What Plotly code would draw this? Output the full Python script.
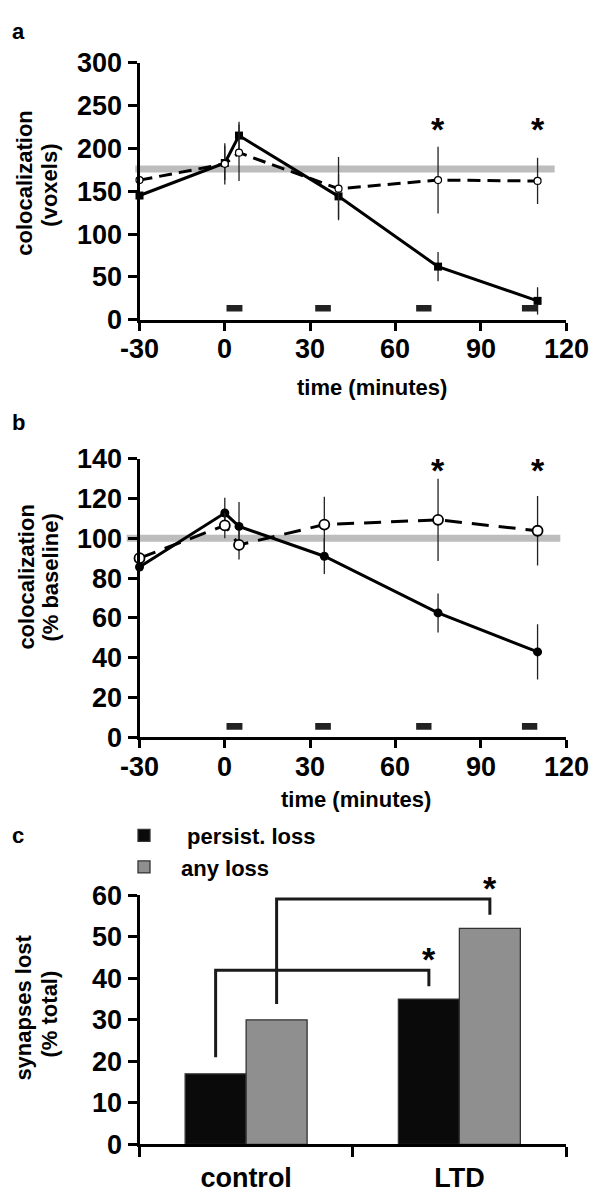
import plotly.graph_objects as go

W, H = 593, 1203
FONT = "Liberation Sans, Arial, sans-serif"

# ---------------- data ----------------
# panel a : colocalization (voxels)
a_time = [-30, 0, 5, 40, 75, 110]
a_ltd = [145, 183, 215, 144, 62, 22]
a_ltd_err = [0, 20, 16, 26, 17, 16]
a_ctl = [163, 182, 195, 153, 163, 162]
a_ctl_err = [0, 24, 33, 37, 39, 27]
a_baseline = 176
a_xticks = [-30, 0, 30, 60, 90, 120]
a_yticks = [0, 50, 100, 150, 200, 250, 300]

# panel b : colocalization (% baseline)
b_time = [-30, 0, 5, 35, 75, 110]
b_ltd = [85.6, 112.7, 106, 91, 62.5, 42.9]
b_ltd_err = [0, 7.7, 12.3, 9, 9.8, 13.9]
b_ctl = [90, 106.5, 96.7, 106.9, 109.3, 103.8]
b_ctl_err = [0, 6.5, 7.3, 14, 20.7, 17.5]
b_baseline = 100
b_yticks = [0, 20, 40, 60, 80, 100, 120, 140]

sig_times = [75, 110]
stim_start = [0.6, 31.8, 67.3, 104.5]
stim_end = [6.2, 37.3, 72.7, 109.9]

# panel c : synapses lost (% total)
c_groups = ["control", "LTD"]
c_persist = [17, 35]
c_any = [30, 52]
c_yticks = [0, 10, 20, 30, 40, 50, 60]

# ---------------- layout helpers ----------------
def px_x(p):
    return p / W

def px_y(p):
    return 1 - p / H

X_DOM = [px_x(139.5), px_x(566)]
YA_DOM = [px_y(312.5), px_y(49)]
YB_DOM = [px_y(740.7), px_y(455.1)]
YC_DOM = [px_y(1158.3), px_y(902.7)]

tickfont = dict(family=FONT, size=27, color="black", weight="bold")


def axstyle(**kw):
    d = dict(showline=True, linewidth=3, linecolor="black", ticks="outside",
             ticklen=9, tickwidth=3, tickcolor="black", showgrid=False,
             zeroline=False, tickfont=tickfont, fixedrange=True)
    d.update(kw)
    return d


BAR = 0.428  # bargap of panel c

fig = go.Figure()

errstyle = dict(type="data", thickness=1.3, width=0, color="#222")

# panel a traces
fig.add_trace(go.Scatter(
    x=a_time, y=a_ltd, mode="lines+markers", xaxis="x", yaxis="y",
    line=dict(color="black", width=3),
    marker=dict(symbol="square", size=8, color="black"),
    error_y=dict(array=a_ltd_err, **errstyle), cliponaxis=False, showlegend=False))
fig.add_trace(go.Scatter(
    x=a_time, y=a_ctl, mode="lines+markers", xaxis="x", yaxis="y",
    line=dict(color="black", width=3, dash="13px,7px"),
    marker=dict(symbol="circle", size=7, color="white", line=dict(color="black", width=1.2)),
    error_y=dict(array=a_ctl_err, **errstyle), cliponaxis=False, showlegend=False))

# panel b traces
fig.add_trace(go.Scatter(
    x=b_time, y=b_ltd, mode="lines+markers", xaxis="x2", yaxis="y2",
    line=dict(color="black", width=3),
    marker=dict(symbol="circle", size=9, color="black"),
    error_y=dict(array=b_ltd_err, **errstyle), cliponaxis=False, showlegend=False))
fig.add_trace(go.Scatter(
    x=b_time, y=b_ctl, mode="lines+markers", xaxis="x2", yaxis="y2",
    line=dict(color="black", width=3, dash="17px,10px"),
    marker=dict(symbol="circle", size=10, color="white", line=dict(color="black", width=1.8)),
    error_y=dict(array=b_ctl_err, **errstyle), cliponaxis=False, showlegend=False))

# panel c bars
fig.add_trace(go.Bar(
    x=c_groups, y=c_persist, name="\u00a0persist. loss", xaxis="x3", yaxis="y3",
    marker=dict(color="#0a0a0a", line=dict(color="#333", width=1.3))))
fig.add_trace(go.Bar(
    x=c_groups, y=c_any, name="any loss", xaxis="x3", yaxis="y3",
    marker=dict(color="#8f8f8f", line=dict(color="#333", width=1.3))))

shapes = []
annotations = []


def xpaper(v):
    return X_DOM[0] + (v + 30) / 150 * (X_DOM[1] - X_DOM[0])

# gray baselines (extend slightly past the axis, so paper x-ref)
shapes.append(dict(type="line", xref="paper", yref="y", x0=xpaper(-31.5), x1=xpaper(116),
                   y0=a_baseline, y1=a_baseline, line=dict(color="#bdbdbd", width=7), layer="below"))
shapes.append(dict(type="line", xref="paper", yref="y2", x0=xpaper(-34.5), x1=xpaper(118),
                   y0=b_baseline, y1=b_baseline, line=dict(color="#bdbdbd", width=7), layer="below"))

# stimulus bars
for s, e in zip(stim_start, stim_end):
    shapes.append(dict(type="rect", xref="x", yref="y", x0=s, x1=e, y0=9.7, y1=17.3,
                       fillcolor="#222", line=dict(width=0)))
    shapes.append(dict(type="rect", xref="x2", yref="y2", x0=s, x1=e, y0=3.8, y1=7.1,
                       fillcolor="#222", line=dict(width=0)))

# x tick labels of panels a and b (placed a little closer to the axis than default)
for t in a_xticks:
    for xr, yr in [("x", "y"), ("x2", "y2")]:
        annotations.append(dict(x=t, y=0, xref=xr, yref=yr, text=str(t), showarrow=False,
                                xanchor="center", yanchor="middle", yshift=-29.5,
                                font=tickfont))

starfont = dict(family=FONT, size=34, color="black", weight="bold")
# significance stars in a and b
for t in sig_times:
    annotations.append(dict(x=t, y=233, xref="x", yref="y", text="*", showarrow=False,
                            yshift=-9, font=starfont))
    annotations.append(dict(x=t, y=139.5, xref="x2", yref="y2", text="*", showarrow=False,
                            yshift=-10, font=starfont))

# brackets in panel c
bw = (1 - BAR) / 2
off_black = -bw / 2
off_gray = bw / 2
brackets = [
    # (x_left, x_right, y_left_bottom, y_top, y_right_bottom)
    (0 + off_black, 1 + off_black, 21, 41.9, 38.1),
    (0 + off_gray, 1 + off_gray, 33.8, 59.1, 55.3),
]
for xl, xr, yl, yt, yr in brackets:
    shapes.append(dict(type="path", xref="x3", yref="y3",
                       path=f"M {xl},{yl} L {xl},{yt} L {xr},{yt} L {xr},{yr}",
                       line=dict(color="#1a1a1a", width=3)))
    annotations.append(dict(x=xr, y=yr, xref="x3", yref="y3", text="*", showarrow=False,
                            yshift=27, font=starfont))

# panel letters
for letter, py in [("a", 17), ("b", 418), ("c", 841)]:
    annotations.append(dict(x=px_x(10), y=px_y(py), xref="paper", yref="paper", text=letter,
                            xanchor="left", yanchor="middle", showarrow=False,
                            font=dict(family=FONT, size=22, color="black", weight="bold")))

# axis titles
tfont = dict(family=FONT, size=22, color="black", weight="bold")
ytitles = [
    ("colocalization", 25, 173), ("(voxels)", 50, 175),
    ("colocalization", 27, 577), ("(% baseline)", 51, 577),
    ("synapses lost", 24, 1018), ("(% total)", 49, 1024),
]
for txt, px, py in ytitles:
    annotations.append(dict(x=px_x(px), y=px_y(py), xref="paper", yref="paper", text=txt,
                            textangle=-90, xanchor="center", yanchor="middle", showarrow=False,
                            font=tfont))
for px, py in [(372, 382), (356, 805)]:
    annotations.append(dict(x=px_x(px), y=px_y(py), xref="paper", yref="paper",
                            text="time (minutes)", xanchor="center", yanchor="middle",
                            showarrow=False, font=tfont))

fig.update_layout(
    width=W, height=H, margin=dict(l=0, r=0, t=0, b=0),
    paper_bgcolor="white", plot_bgcolor="white",
    font=dict(family=FONT, color="black"),
    barmode="group", bargap=BAR, bargroupgap=0,
    xaxis=axstyle(domain=X_DOM, anchor="y", range=[-30, 120], tickmode="array",
                  tickvals=a_xticks, showticklabels=False, ticklen=8),
    yaxis=axstyle(domain=YA_DOM, anchor="x", range=[0, 300], tickmode="array",
                  tickvals=a_yticks, ticktext=[str(v) for v in a_yticks]),
    xaxis2=axstyle(domain=X_DOM, anchor="y2", range=[-30, 120], tickmode="array",
                   tickvals=a_xticks, showticklabels=False, ticklen=8),
    yaxis2=axstyle(domain=YB_DOM, anchor="x2", range=[0, 140], tickmode="array",
                   tickvals=b_yticks, ticktext=[str(v) for v in b_yticks]),
    xaxis3=axstyle(domain=X_DOM, anchor="y3", type="category", range=[-0.5, 1.5],
                   tickson="boundaries", ticklen=10, ticklabelstandoff=7),
    yaxis3=axstyle(domain=YC_DOM, anchor="x3", range=[0, 60], tickmode="array",
                   tickvals=c_yticks, ticktext=[str(v) for v in c_yticks]),
    legend=dict(x=px_x(107), y=px_y(820), xanchor="left", yanchor="top",
                font=dict(family=FONT, size=22, color="black", weight="bold"),
                bgcolor="rgba(0,0,0,0)", tracegroupgap=0, itemwidth=64),
    shapes=shapes, annotations=annotations,
)

fig.write_html("out.html")
